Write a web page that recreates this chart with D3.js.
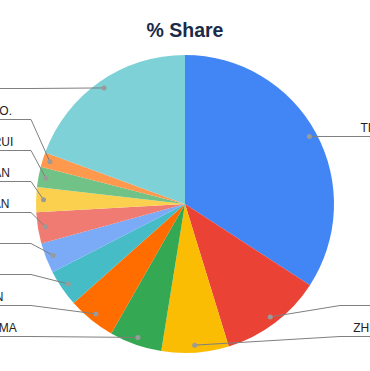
<!DOCTYPE html>
<html>
<head>
<meta charset="utf-8">
<script src="https://cdn.jsdelivr.net/npm/d3@7"></script>
<style>
  html, body { margin: 0; padding: 0; background: #fff; overflow: hidden; }
  svg { display: block; }
</style>
</head>
<body>
<svg id="chart" width="370" height="371"></svg>
<script>
// ---- data ----
const title = "% Share";
const categories = ["TIANMA", "BOE", "ZHIYUAN", "JUNHUAMA", "BAICHEN", "BAIC", "GEELY", "HAOYUAN", "CHANGAN", "SHENGRUI", "RUIHE CO.", "OTHER"];
const shares = [34.2, 11.1, 7.3, 5.7, 5.2, 4.0, 3.3, 3.4, 2.7, 2.2, 1.6, 19.4];
const palette = ["#4285F4", "#EA4335", "#FBBC04", "#34A853", "#FF6D01", "#46BDC6", "#7BAAF7", "#F07B72", "#FCD04F", "#71C287", "#FF994D", "#7ED1D7"];

// ---- layout ----
const W = 370, H = 371;
const cx = 185, cy = 204, R = 149, dotR = 141.5;
const gap = 31, maxY = 336, minY = 40;
const bendRight = 340, bendLeft = 31;
const textRight = 405.8, textLeft = -50;
const font = "'Liberation Sans', Arial, sans-serif";

const svg = d3.select("#chart");

svg.append("text")
  .attr("x", W / 2).attr("y", 37)
  .attr("text-anchor", "middle")
  .attr("font-family", font)
  .attr("font-weight", "bold")
  .attr("font-size", "19.5px")
  .attr("fill", "#1a2b47")
  .text(title);

const data = categories.map((c, i) => ({ name: c, v: shares[i] }));
const color = d3.scaleOrdinal().domain(categories).range(palette);
const pie = d3.pie().sort(null).value(d => d.v);
const arcs = pie(data);
const arc = d3.arc().innerRadius(0).outerRadius(R);

const g = svg.append("g").attr("transform", `translate(${cx},${cy})`);
g.selectAll("path.slice").data(arcs).join("path")
  .attr("class", "slice")
  .attr("d", arc)
  .attr("fill", d => color(d.data.name));

// label positions
const items = arcs.map(a => {
  const mid = (a.startAngle + a.endAngle) / 2;
  return {
    name: a.data.name,
    side: mid < Math.PI ? "right" : "left",
    dx: cx + dotR * Math.sin(mid),
    dy: cy - dotR * Math.cos(mid)
  };
});

["left", "right"].forEach(side => {
  const list = items.filter(d => d.side === side).sort((a, b) => a.dy - b.dy);
  list.forEach((d, i) => {
    d.ly = Math.max(d.dy, i > 0 ? list[i - 1].ly + gap : minY);
  });
  for (let i = list.length - 1; i >= 0; i--) {
    const lim = i === list.length - 1 ? maxY : list[i + 1].ly - gap;
    list[i].ly = Math.min(list[i].ly, lim);
  }
  list.forEach(d => d.ly = Math.round(d.ly) + 0.5);
});

const lg = svg.append("g");
lg.selectAll("path.leader").data(items).join("path")
  .attr("class", "leader")
  .attr("fill", "none")
  .attr("stroke", "#7f7f7f")
  .attr("stroke-width", 1)
  .attr("d", d => {
    if (d.side === "right") {
      return `M${d.dx},${d.dy}L${bendRight},${d.ly}L${textRight + 5},${d.ly}`;
    }
    return `M${d.dx},${d.dy}L${bendLeft},${d.ly}L${textLeft - 5},${d.ly}`;
  });

lg.selectAll("circle.dot").data(items).join("circle")
  .attr("class", "dot")
  .attr("cx", d => d.dx).attr("cy", d => d.dy)
  .attr("r", 2.5)
  .attr("fill", "#9a9a9a");

lg.selectAll("text.lab").data(items).join("text")
  .attr("class", "lab")
  .attr("x", d => d.side === "right" ? textRight : textLeft)
  .attr("y", d => d.ly - 4.5)
  .attr("text-anchor", d => d.side === "right" ? "end" : "start")
  .attr("font-family", font)
  .attr("font-size", "12px")
  .attr("fill", "#222")
  .text(d => d.name);
</script>
</body>
</html>
